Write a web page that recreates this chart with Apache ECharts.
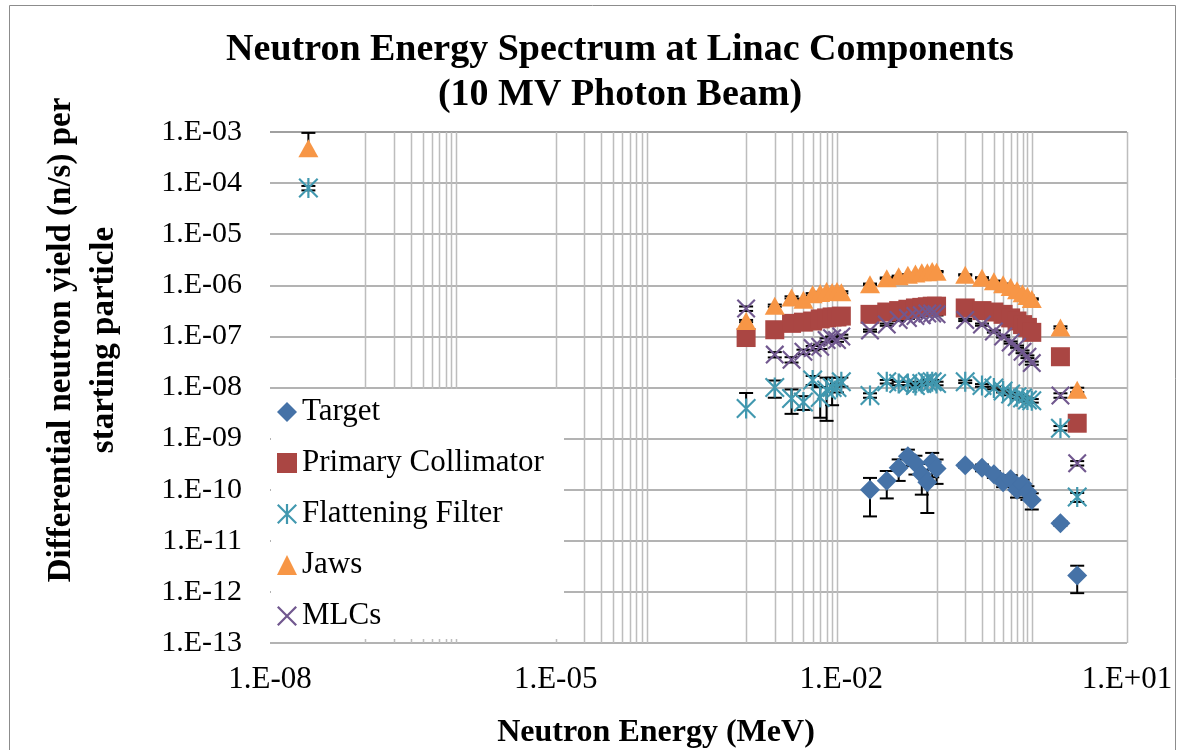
<!DOCTYPE html>
<html>
<head>
<meta charset="utf-8">
<title>Neutron Energy Spectrum at Linac Components</title>
<script src="https://cdn.jsdelivr.net/npm/echarts@6.0.0/dist/echarts.min.js"></script>
<style>
  html, body { margin: 0; padding: 0; background: #fff; }
  #chart { width: 1180px; height: 750px; }
</style>
</head>
<body>
<div id="chart"></div>
<script>
// energy bins (MeV)
var energies = [0.001, 0.002, 0.003, 0.004, 0.005, 0.006, 0.007, 0.008, 0.009, 0.01,
                0.02, 0.03, 0.04, 0.05, 0.06, 0.07, 0.08, 0.09, 0.1,
                0.2, 0.3, 0.4, 0.5, 0.6, 0.7, 0.8, 0.9, 1,
                2, 3];
var thermalEnergy = 2.53e-8;

// differential neutron yield per starting particle
var target = [null, null, null, null, null, null, null, null, null, null,
              1.0e-10, 1.5e-10, 2.7e-10, 4.5e-10, 3.3e-10, 2.0e-10, 1.4e-10, 3.5e-10, 2.6e-10,
              3.0e-10, 2.7e-10, 2.0e-10, 1.4e-10, 1.6e-10, 1.0e-10, 1.3e-10, 9.0e-11, 6.3e-11,
              2.2e-11, 2.1e-12];
var primary = [9.5e-8, 1.35e-7, 1.8e-7, 1.9e-7, 2.0e-7, 2.2e-7, 2.3e-7, 2.4e-7, 2.4e-7, 2.5e-7,
               2.7e-7, 3.0e-7, 3.2e-7, 3.4e-7, 3.6e-7, 3.7e-7, 3.8e-7, 3.9e-7, 3.9e-7,
               3.6e-7, 3.2e-7, 3.0e-7, 2.7e-7, 2.3e-7, 2.0e-7, 1.7e-7, 1.5e-7, 1.2e-7,
               4.0e-8, 2.0e-9];
var flattening = [3.9e-9, 1.0e-8, 6.1e-9, 5.2e-9, 1.4e-8, 6.4e-9, 8.9e-9, 1.0e-8, 1.0e-8, 1.3e-8,
                  7.0e-9, 1.3e-8, 1.2e-8, 1.2e-8, 1.1e-8, 1.2e-8, 1.3e-8, 1.3e-8, 1.2e-8,
                  1.3e-8, 1.1e-8, 9.8e-9, 8.5e-9, 7.5e-9, 6.6e-9, 6.2e-9, 5.7e-9, 5.5e-9,
                  1.6e-9, 7.2e-11];
var jaws = [2.0e-7, 4.0e-7, 5.8e-7, 5.2e-7, 6.7e-7, 7.1e-7, 7.7e-7, 7.4e-7, 7.7e-7, 7.3e-7,
            1.05e-6, 1.38e-6, 1.5e-6, 1.6e-6, 1.7e-6, 1.8e-6, 1.8e-6, 1.9e-6, 1.85e-6,
            1.6e-6, 1.4e-6, 1.2e-6, 1.05e-6, 9.3e-7, 8.0e-7, 7.0e-7, 6.2e-7, 5.4e-7,
            1.5e-7, 9.0e-9];
var mlcs = [3.5e-7, 4.4e-8, 3.5e-8, 5.0e-8, 5.9e-8, 6.3e-8, 8.5e-8, 9.2e-8, 8.5e-8, 1.0e-7,
            1.3e-7, 1.7e-7, 2.1e-7, 2.3e-7, 2.5e-7, 2.6e-7, 2.8e-7, 2.8e-7, 2.7e-7,
            2.1e-7, 1.7e-7, 1.25e-7, 1.0e-7, 7.6e-8, 6.3e-8, 5.0e-8, 4.0e-8, 3.0e-8,
            7.0e-9, 3.3e-10];
var flatteningThermal = 8.0e-5;
var jawsThermal = 4.8e-4;

// relative errors (error bar half length / value)
var targetErr = [0, 0, 0, 0, 0, 0, 0, 0, 0, 0,
                 0.7, 0.55, 0.45, 0.35, 0.4, 0.6, 0.75, 0.5, 0.5,
                 0.1, 0.15, 0.15, 0.2, 0.2, 0.3, 0.2, 0.3, 0.35,
                 0.1, 0.55];
var primaryErr = [0.05, 0.05, 0.04, 0.04, 0.04, 0.04, 0.04, 0.04, 0.04, 0.04,
                  0.03, 0.03, 0.03, 0.03, 0.03, 0.03, 0.03, 0.03, 0.03,
                  0.03, 0.03, 0.03, 0.03, 0.03, 0.03, 0.03, 0.03, 0.03,
                  0.05, 0.1];
var flatteningErr = [1.0, 0.37, 0.5, 0.3, 0.2, 0.6, 0.75, 0.55, 0.2, 0.2,
                     0.1, 0.08, 0.08, 0.08, 0.08, 0.08, 0.08, 0.08, 0.08,
                     0.06, 0.06, 0.06, 0.06, 0.06, 0.08, 0.08, 0.08, 0.08,
                     0.1, 0.2];
var jawsErr = [0.05, 0.05, 0.05, 0.05, 0.05, 0.05, 0.05, 0.05, 0.05, 0.05,
               0.03, 0.03, 0.03, 0.03, 0.03, 0.03, 0.03, 0.03, 0.03,
               0.03, 0.03, 0.03, 0.03, 0.03, 0.03, 0.03, 0.03, 0.03,
               0.05, 0.1];
var mlcsErr = [0.1, 0.12, 0.12, 0.1, 0.1, 0.1, 0.08, 0.08, 0.08, 0.08,
               0.05, 0.05, 0.05, 0.05, 0.05, 0.05, 0.05, 0.05, 0.05,
               0.05, 0.05, 0.05, 0.05, 0.05, 0.05, 0.06, 0.06, 0.07,
               0.1, 0.1];
var flatteningThermalErr = 0.1;
var jawsThermalErr = 1.0;

var seriesNames = ['Target', 'Primary Collimator', 'Flattening Filter', 'Jaws', 'MLCs'];
var seriesColors = ['#4572A7', '#AA4643', '#4198AF', '#F79646', '#71588F'];

// x-axis labelled decades and decades carrying minor grid lines
var labelDecades = [-8, -5, -2, 1];
var minorGridDecades = [-7, -5, -3, -1];

var fontFamily = '"Liberation Serif", "Times New Roman", serif';

function toPoints(values, extraX, extraY) {
  var pts = [];
  if (extraY != null) pts.push([extraX, extraY]);
  for (var i = 0; i < energies.length; i++) {
    if (values[i] != null) pts.push([energies[i], values[i]]);
  }
  return pts;
}

function toErrors(values, rel, extraX, extraY, extraRel) {
  var out = [];
  if (extraY != null) out.push([extraX, extraY, extraY * (1 - extraRel), extraY * (1 + extraRel)]);
  for (var i = 0; i < energies.length; i++) {
    if (values[i] != null) {
      out.push([energies[i], values[i], values[i] * (1 - rel[i]), values[i] * (1 + rel[i])]);
    }
  }
  return out;
}

function fmtExp(v) {
  var e = Math.round(Math.log10(v));
  return '1.E' + (e < 0 ? '-' : '+') + (Math.abs(e) < 10 ? '0' : '') + Math.abs(e);
}

function renderErr(params, api) {
  var x = api.value(0), y = api.value(1), lo = api.value(2), hi = api.value(3);
  var mid = api.coord([x, y]);
  var top = api.coord([x, hi]);
  var cap = 7;
  var st = { stroke: '#000', lineWidth: 2 };
  var kids = [
    { type: 'line', shape: { x1: mid[0], y1: top[1], x2: mid[0], y2: mid[1] }, style: st },
    { type: 'line', shape: { x1: mid[0] - cap, y1: top[1], x2: mid[0] + cap, y2: top[1] }, style: st }
  ];
  if (lo > 0) {
    var bot = api.coord([x, lo]);
    kids.push({ type: 'line', shape: { x1: mid[0], y1: mid[1], x2: mid[0], y2: bot[1] }, style: st });
    kids.push({ type: 'line', shape: { x1: mid[0] - cap, y1: bot[1], x2: mid[0] + cap, y2: bot[1] }, style: st });
  }
  return { type: 'group', children: kids };
}

// vertical grid lines at k*10^n for the minor decades, plus 1 and 10
var gridX = [];
minorGridDecades.forEach(function (d) {
  for (var k = 1; k <= 9; k++) gridX.push([k * Math.pow(10, d), 1e-8]);
});
gridX.push([1, 1e-8], [10, 1e-8]);

function renderGridX(params, api) {
  var x = api.value(0);
  var a = api.coord([x, 1e-3]);
  var b = api.coord([x, 1e-13]);
  return {
    type: 'line',
    shape: { x1: Math.round(a[0]) + 0.5, y1: a[1], x2: Math.round(a[0]) + 0.5, y2: b[1] },
    style: { stroke: '#bdbdbd', lineWidth: 1.5 }
  };
}

var xSymbol = 'path://M0,1.6L1.6,0L20,18.4L18.4,20Z M18.4,0L20,1.6L1.6,20L0,18.4Z';
var starSymbol = 'path://M0,1.5L1.5,0L20,18.5L18.5,20Z M18.5,0L20,1.5L1.5,20L0,18.5Z M8.9,0L11.1,0L11.1,20L8.9,20Z';

var data = [
  toPoints(target), toPoints(primary),
  toPoints(flattening, thermalEnergy, flatteningThermal),
  toPoints(jaws, thermalEnergy, jawsThermal), toPoints(mlcs)
];
var errs = [
  toErrors(target, targetErr), toErrors(primary, primaryErr),
  toErrors(flattening, flatteningErr, thermalEnergy, flatteningThermal, flatteningThermalErr),
  toErrors(jaws, jawsErr, thermalEnergy, jawsThermal, jawsThermalErr), toErrors(mlcs, mlcsErr)
];
var symbols = ['diamond', 'rect', starSymbol, 'triangle', xSymbol];
var sizes = [[20, 20], [19, 19], [20, 20], [20, 18], [19, 19]];

var series = [{
  type: 'custom', name: 'gridX', renderItem: renderGridX, data: gridX,
  encode: { x: 0, y: 1 }, silent: true, z: 1
}];
for (var i = 0; i < 5; i++) {
  series.push({
    type: 'custom', name: seriesNames[i] + ' err', renderItem: renderErr,
    data: errs[i], encode: { x: 0, y: 1 }, z: 2, silent: true
  });
}
for (var j = 0; j < 5; j++) {
  series.push({
    type: 'scatter', name: seriesNames[j], data: data[j],
    symbol: symbols[j], symbolSize: sizes[j], z: 3,
    itemStyle: { color: seriesColors[j], opacity: 1 }
  });
}

var myChart = echarts.init(document.getElementById('chart'));
var option = {
  animation: false,
  backgroundColor: '#fff',
  legend: {
    data: seriesNames,
    orient: 'vertical', left: 277, top: 396, padding: 0,
    itemWidth: 20, itemHeight: 20, itemGap: 19,
    selectedMode: false, z: 5,
    textStyle: { fontFamily: fontFamily, fontSize: 31, color: '#000', lineHeight: 32 }
  },
  graphic: [
    { type: 'rect', left: 271, top: 389, z: 4, shape: { width: 293, height: 250 }, style: { fill: '#fff' } },
    { type: 'rect', left: 7, top: 3, z: 0, silent: true,
      shape: { width: 1166, height: 780 }, style: { fill: 'none', stroke: '#8c8c8c', lineWidth: 1 } },
    { type: 'text', x: 620, y: 28, z: 5, silent: true,
      style: { text: 'Neutron Energy Spectrum at Linac Components\n(10 MV Photon Beam)',
               fontFamily: fontFamily, fontSize: 38, fontWeight: 'bold', fill: '#000',
               lineHeight: 45, align: 'center', verticalAlign: 'top' } },
    { type: 'text', z: 5, silent: true, rotation: Math.PI / 2, x: 83, y: 340,
      style: { text: 'Differential neutron yield (n/s) per\nstarting particle',
               fontFamily: fontFamily, fontSize: 33, fontWeight: 'bold', fill: '#000',
               lineHeight: 43, align: 'center', verticalAlign: 'middle' } },
    { type: 'text', z: 5, silent: true, x: 656, y: 733,
      style: { text: 'Neutron Energy (MeV)',
               fontFamily: fontFamily, fontSize: 32, fontWeight: 'bold', fill: '#000',
               align: 'center', verticalAlign: 'middle' } }
  ],
  grid: { left: 270, top: 132, right: 53, bottom: 107 },
  xAxis: {
    type: 'log', logBase: 10, min: 1e-8, max: 10, splitNumber: 9,
    axisLine: { show: false }, axisTick: { show: false }, splitLine: { show: false },
    axisLabel: {
      fontFamily: fontFamily, fontSize: 31, color: '#000', margin: 21,
      formatter: function (v) {
        var e = Math.round(Math.log10(v));
        return labelDecades.indexOf(e) < 0 ? '' : fmtExp(v);
      }
    }
  },
  yAxis: {
    type: 'log', logBase: 10, min: 1e-13, max: 1e-3, splitNumber: 10,
    axisLine: { show: false }, axisTick: { show: false },
    splitLine: { show: true, lineStyle: { color: '#9a9a9a', width: 1.5 } },
    axisLabel: { fontFamily: fontFamily, fontSize: 30, color: '#000', margin: 28, formatter: fmtExp }
  },
  series: series
};
myChart.setOption(option);
</script>
</body>
</html>
